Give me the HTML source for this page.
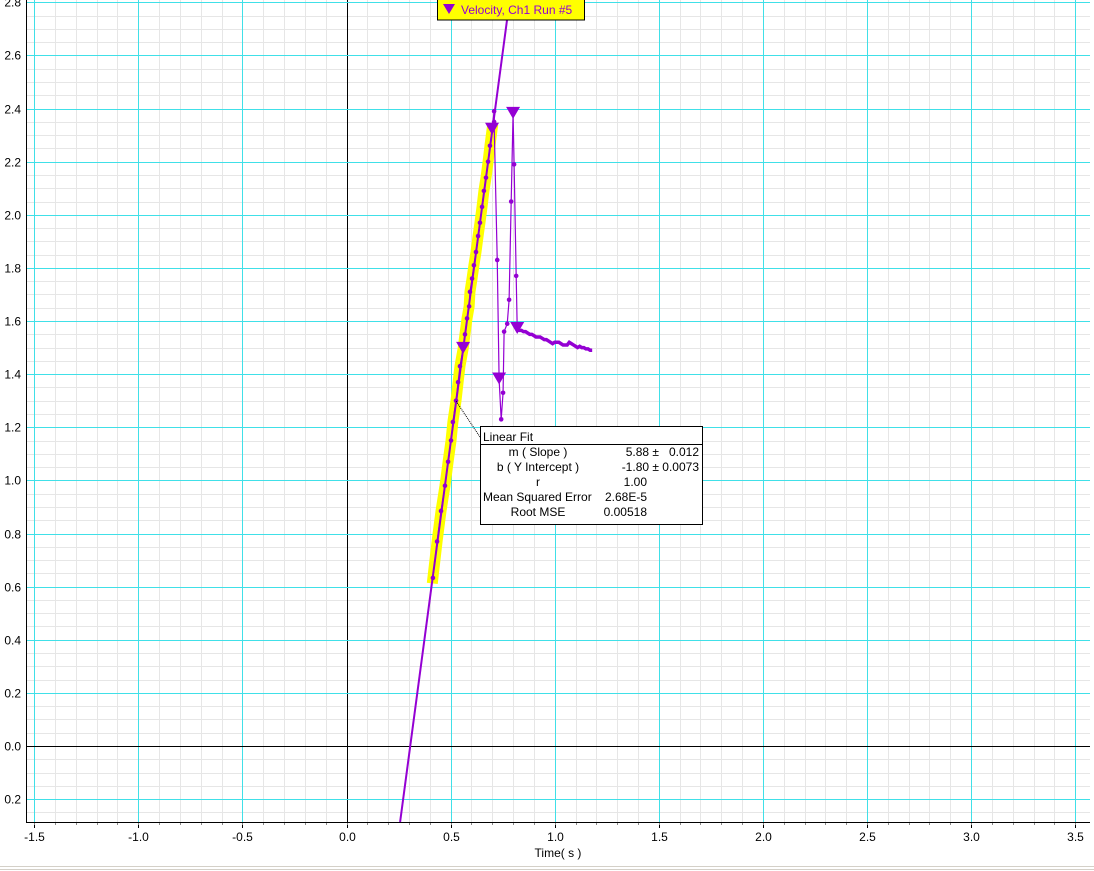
<!DOCTYPE html>
<html><head><meta charset="utf-8"><style>
html,body{margin:0;padding:0;background:#fff;}
svg{display:block;font-family:"Liberation Sans",sans-serif;}
text{white-space:pre;}
</style></head><body>
<svg id="chart" width="1094" height="871" xmlns="http://www.w3.org/2000/svg">
<g id="grid"></g>
<g id="axes"></g>
<g id="series"></g>
<g id="fitbox">
 <line x1="480" y1="437" x2="456" y2="401" stroke="#000" stroke-width="1" stroke-dasharray="1,1"/>
 <rect x="480.5" y="426.5" width="222" height="98" fill="#fff" stroke="#000"/>
 <line x1="481" y1="444.5" x2="702" y2="444.5" stroke="#000"/>
 <g font-size="12" fill="#000">
  <text x="483" y="441">Linear Fit</text>
  <text x="538" y="456" text-anchor="middle">m ( Slope )</text>
  <text x="699" y="456" text-anchor="end" xml:space="preserve">5.88 ±   0.012</text>
  <text x="538" y="471" text-anchor="middle">b ( Y Intercept )</text>
  <text x="699" y="471" text-anchor="end">-1.80 ± 0.0073</text>
  <text x="538" y="486" text-anchor="middle">r</text>
  <text x="647" y="486" text-anchor="end">1.00</text>
  <text x="483" y="501">Mean Squared Error</text>
  <text x="647" y="501" text-anchor="end">2.68E-5</text>
  <text x="538" y="516" text-anchor="middle">Root MSE</text>
  <text x="647" y="516" text-anchor="end">0.00518</text>
 </g>
</g>
<g id="legend">
 <rect x="437.5" y="-1" width="147" height="21" fill="#ffff00" stroke="#000"/>
 <polygon points="443,4 455,4 449,14" fill="#9400d3"/>
 <text x="461" y="14" font-size="12" fill="#9400d3">Velocity, Ch1 Run #5</text>
</g>
<text x="558" y="857" font-size="12" text-anchor="middle" fill="#000">Time( s )</text>
<rect x="0" y="864" width="1094" height="7" fill="#fff"/>
<line x1="0" y1="866.5" x2="1094" y2="866.5" stroke="#d4d0c8"/>
<line x1="0" y1="869.5" x2="1094" y2="869.5" stroke="#d4d0c8"/>
</svg>
<script>
// data
const fitT = [0.415,0.435,0.454,0.473,0.488,0.502,0.511,0.526,0.536,0.545,0.560,0.569,0.579,0.589,0.593,0.603,0.612,0.622,0.632,0.641,0.651,0.660,0.670,0.680,0.689,0.699];
const fitV = [0.633,0.77,0.885,0.98,1.07,1.15,1.22,1.30,1.37,1.43,1.495,1.55,1.61,1.655,1.71,1.76,1.81,1.86,1.92,1.97,2.03,2.09,2.14,2.20,2.26,2.32];
const postT = [0.709,0.709,0.724,0.733,0.743,0.752,0.757,0.772,0.781,0.791,0.800,0.805,0.815,0.820];
const postV = [2.39,2.35,1.83,1.38,1.23,1.33,1.56,1.59,1.68,2.05,2.38,2.19,1.77,1.57];
const tailT = [0.82,0.83,0.84,0.85,0.86,0.87,0.88,0.89,0.90,0.91,0.92,0.93,0.94,0.95,0.96,0.97,0.98,0.99,1.00,1.01,1.02,1.03,1.04,1.05,1.06,1.07,1.08,1.09,1.10,1.11,1.12,1.13,1.14,1.15,1.16,1.17,1.18];
const tailV = [1.57,1.565,1.565,1.56,1.56,1.555,1.55,1.55,1.545,1.54,1.54,1.54,1.535,1.53,1.53,1.525,1.52,1.515,1.52,1.52,1.52,1.515,1.51,1.51,1.51,1.52,1.515,1.51,1.505,1.50,1.505,1.50,1.50,1.495,1.495,1.49,1.49];
const markerT = [0.560,0.699,0.733,0.800,0.820];
const markerV = [1.495,2.32,1.38,2.38,1.57];
const fitSlope = 5.88, fitIntercept = -1.80;
const xTicks = [-1.5,-1.0,-0.5,0.0,0.5,1.0,1.5,2.0,2.5,3.0,3.5];
const xTickLabels = ["-1.5","-1.0","-0.5","0.0","0.5","1.0","1.5","2.0","2.5","3.0","3.5"];
const yTicks = [-0.2,0.0,0.2,0.4,0.6,0.8,1.0,1.2,1.4,1.6,1.8,2.0,2.2,2.4,2.6,2.8];
const yTickLabels = ["0.2","0.0","0.2","0.4","0.6","0.8","1.0","1.2","1.4","1.6","1.8","2.0","2.2","2.4","2.6","2.8"];

const NS="http://www.w3.org/2000/svg";
const L=26,R=1090,T=0,B=822;
const X=t=>346.5+t*208.2;
const Y=v=>746-v*265.6;
const xmin=(L-346.5)/208.2, xmax=(R-346.5)/208.2, ymin=(746-B)/265.6, ymax=(746-T)/265.6;
function mk(tag,attrs,parent){const e=document.createElementNS(NS,tag);for(const k in attrs)e.setAttribute(k,attrs[k]);parent.appendChild(e);return e;}
const grid=document.getElementById('grid'),axes=document.getElementById('axes'),series=document.getElementById('series');

for(let i=Math.ceil(xmin*10);i<=xmax*10;i++){const x=Math.round(X(i/10))+0.5;
 const ln=mk('line',{x1:x,y1:T,x2:x,y2:B,stroke:'#e6e6e6'},grid);
 
 }
for(let i=Math.ceil(ymin*20);i<=ymax*20;i++){const y=Math.round(Y(i/20))+0.5;
 const ln=mk('line',{x1:L,y1:y,x2:R,y2:y,stroke:'#e6e6e6'},grid);
 
 }
xTicks.forEach((t,i)=>{const x=Math.round(X(t))+0.5;
 const ln=mk('line',{x1:x,y1:T,x2:x,y2:B,stroke:t===0?'#000':'#40e0e8'},grid);
 
 
 mk('line',{x1:x,y1:B,x2:x,y2:B+6,stroke:'#000'},axes);
 const tx=mk('text',{x:x,y:841,'font-size':12,'text-anchor':'middle',fill:'#000'},axes);tx.textContent=xTickLabels[i];
 
 });
for(let i=Math.ceil(xmin*10);i<=xmax*10;i++){const x=Math.round(X(i/10))+0.5;mk('line',{x1:x,y1:B,x2:x,y2:B+3,stroke:'#888'},axes);}
yTicks.forEach((v,i)=>{const y=Math.round(Y(v))+0.5;
 const ln=mk('line',{x1:L,y1:y,x2:R,y2:y,stroke:v===0?'#000':'#40e0e8'},grid);
 
 
 const tx=mk('text',{x:21,y:y+4,'font-size':12,'text-anchor':'end',fill:'#000'},axes);tx.textContent=yTickLabels[i];
 
 });
const ax1=mk('line',{x1:L+0.5,y1:T,x2:L+0.5,y2:B+0.5,stroke:'#000'},axes);


const ax2=mk('line',{x1:L,y1:B+0.5,x2:R,y2:B+0.5,stroke:'#000'},axes);



const hl=mk('polyline',{points:fitT.map((t,i)=>X(t)+','+Y(fitV[i])).join(' '),fill:'none',stroke:'#ffff00','stroke-width':11,'stroke-linecap':'square','stroke-linejoin':'miter'},series);


const t0=(ymin-fitIntercept)/fitSlope, t1=(ymax-fitIntercept)/fitSlope;
const fl=mk('line',{x1:X(t0),y1:Y(ymin),x2:X(t1),y2:Y(ymax),stroke:'#9400d3','stroke-width':2},series);


const allT=fitT.concat(postT), allV=fitV.concat(postV);
const dl=mk('polyline',{points:allT.map((t,i)=>X(t)+','+Y(allV[i])).join(' '),fill:'none',stroke:'#9400d3','stroke-width':1.2},series);


const tl=mk('polyline',{points:tailT.map((t,i)=>X(t)+','+Y(tailV[i])).join(' '),fill:'none',stroke:'#9400d3','stroke-width':3.5},series);


allT.forEach((t,i)=>{const c=mk('circle',{cx:X(t),cy:Y(allV[i]),r:2.3,fill:'#9400d3'},series);
 
 });
markerT.forEach((t,i)=>{const x=X(t),y=Y(markerV[i]);
 const p=mk('polygon',{points:`${x-7},${y-7} ${x+7},${y-7} ${x},${y+5}`,fill:'#9400d3'},series);
 
 });
</script>
</body></html>
